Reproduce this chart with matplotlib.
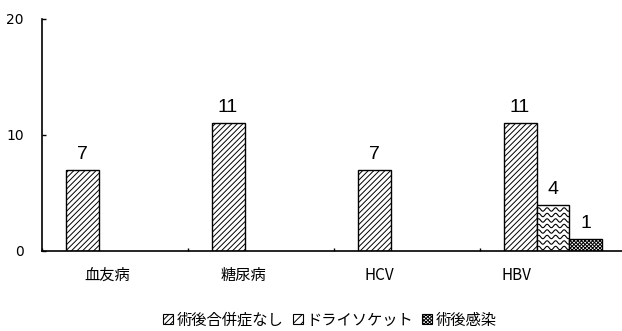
import matplotlib
matplotlib.use("Agg")
import matplotlib.pyplot as plt
import matplotlib.transforms as mtransforms
from matplotlib.patches import Patch
import numpy as np

CATEGORIES = ["血友病", "糖尿病", "HCV", "HBV"]
SERIES = ["術後合併症なし", "ドライソケット", "術後感染"]
NO_COMPLICATION = [7, 11, 7, 11]
DRY_SOCKET = [0, 0, 0, 4]
INFECTION = [0, 0, 0, 1]
Y_TICKS = [0, 10, 20]

# category label x positions (data units), drawn slightly left of group centres
LABEL_X = [-0.05, 0.88, 1.81, 2.75]

JP = ["Noto Sans CJK JP", "DejaVu Sans"]
NUM = ["Liberation Sans Narrow", "Liberation Sans", "DejaVu Sans"]

plt.rcParams["hatch.linewidth"] = 0.7

W, H = 622, 331
fig = plt.figure(figsize=(W / 100, H / 100), dpi=100)
ax = fig.add_axes([42 / W, (H - 251) / H, 584 / W, 232 / H])

w = 0.226
x = np.arange(len(CATEGORIES))


def draw(vals, offset, hatch):
    bars = []
    for xi, v in zip(x, vals):
        if v <= 0:
            bars.append(None)
            continue
        b = ax.bar(xi + offset, v, w, facecolor="white", edgecolor="black",
                   linewidth=1.0, hatch=hatch)[0]
        ax.annotate(f"{v}", xy=(xi + offset, v), xytext=(0, 5),
                    textcoords="offset points", ha="center", va="bottom",
                    fontsize=14, family=NUM)
        bars.append(b)
    return bars


draw(NO_COMPLICATION, -w, "//////")
wave_bars = draw(DRY_SOCKET, 0, None)
draw(INFECTION, w, "xxxxxxxxx")

ax.set_xlim(-0.5, 3.5)
ax.set_ylim(0, 20)
ax.set_yticks(Y_TICKS)
ax.set_yticklabels([str(t) for t in Y_TICKS], family="DejaVu Sans", fontsize=10)
ax.set_xticks(np.arange(len(CATEGORIES)) - 0.5)
ax.set_xticklabels([])
ax.tick_params(axis="y", direction="in", length=3, width=1.0, pad=13)
ax.tick_params(axis="x", direction="in", length=2.5, width=1.0)
for s in ("top", "right"):
    ax.spines[s].set_visible(False)
for s in ("left", "bottom"):
    ax.spines[s].set_linewidth(1.2)

for lx, name in zip(LABEL_X, CATEGORIES):
    ax.text(lx, -0.07, name, transform=mtransforms.blended_transform_factory(ax.transData, ax.transAxes),
            ha="center", va="top", fontsize=11, family=JP)

# wavy fill for the dry-socket bars, drawn in pixel space and clipped to each bar
ident = mtransforms.IdentityTransform()
for b in wave_bars:
    if b is None:
        continue
    bb = b.get_window_extent(renderer=fig.canvas.get_renderer())
    xs = np.linspace(bb.x0, bb.x1, 80)
    y0 = bb.y0 + 3
    while y0 < bb.y1:
        ys = y0 + 1.7 * np.sin(2 * np.pi * (xs - bb.x0) / 8.5)
        ln, = ax.plot(xs, ys, color="black", lw=0.8, transform=ident)
        ln.set_clip_path(b)
        y0 += 5.5

handles = [
    Patch(facecolor="white", edgecolor="black", hatch="//////", linewidth=0.8),
    Patch(facecolor="white", edgecolor="black", hatch="////", linewidth=0.8),
    Patch(facecolor="white", edgecolor="black", hatch="xxxxxxxxx", linewidth=0.8),
]
fig.legend(handles, SERIES, loc="center", bbox_to_anchor=(330 / W, 11 / H),
           ncol=3, frameon=False, prop={"family": JP, "size": 11},
           handlelength=0.65, handleheight=0.65, handletextpad=0.25,
           columnspacing=0.6, borderaxespad=0)

fig.savefig("out.png", dpi=100)
